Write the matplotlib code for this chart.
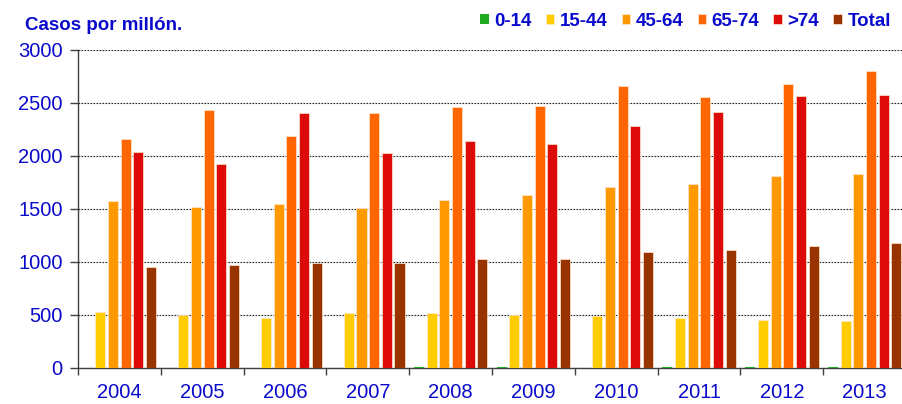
import matplotlib
matplotlib.use('Agg')
import matplotlib.pyplot as plt
import numpy as np

## ------------ data -----------
years = ['2004', '2005', '2006', '2007', '2008', '2009', '2010', '2011', '2012', '2013']
groups = ['0-14', '15-44', '45-64', '65-74', '>74', 'Total']

g_0_14 = [0, 0, 0, 0, 10, 10, 0, 10, 10, 10]
g_15_44 = [526, 495, 467, 514, 514, 495, 486, 467, 448, 439]
g_45_64 = [1569, 1519, 1540, 1503, 1581, 1632, 1703, 1735, 1804, 1826]
g_65_74 = [2162, 2435, 2181, 2407, 2460, 2470, 2654, 2551, 2673, 2796]
g_74 = [2039, 1926, 2398, 2021, 2134, 2112, 2284, 2416, 2564, 2576]
total = [947, 966, 991, 990, 1029, 1029, 1089, 1114, 1152, 1180]

series = [g_0_14, g_15_44, g_45_64, g_65_74, g_74, total]
colors = ['#20AA20', '#FFCC00', '#FF9900', '#FF6600', '#DD0A0A', '#993300']
blue = '#0A0ACC'

## ------------ plot bars -----------
plt.rcParams['font.family'] = ['Liberation Sans', 'DejaVu Sans']
fig = plt.figure(figsize=(9.02, 4.04), dpi=100)
ax = fig.add_axes([0.0865, 0.09, 0.918, 0.787])

pos = np.arange(len(years)) + 0.5
step = 0.153
width = 0.121
for k, (vals, col, lab) in enumerate(zip(series, colors, groups)):
    lw = 0 if k == 0 else 0.5   # no pale edge on the tiny green bars
    ax.bar(pos + (k - 2.5) * step, vals, width, color=col, label=lab,
           edgecolor='#FFE8D0', linewidth=lw, zorder=3)

ax.set_xlim(0, len(years))
ax.set_ylim(0, 3000)
ax.set_yticks(np.arange(0, 3001, 500))

# ticks on the category borders, labels in the middle
ax.set_xticks(np.arange(len(years) + 1))
ax.set_xticklabels([])
ax.set_xticks(pos, minor=True)
ax.set_xticklabels(years, minor=True)
ax.tick_params(axis='x', which='major', length=5, width=1, color='#404040', direction='out')
ax.tick_params(axis='x', which='minor', length=0, pad=11, labelsize=14.5, labelcolor=blue)
ax.tick_params(axis='y', length=6, width=1, color='#404040', pad=5, labelsize=14.5, labelcolor=blue)

ax.yaxis.grid(True, linestyle=(0, (1.5, 1.2)), color='#202020', linewidth=0.8, zorder=0)
ax.set_axisbelow(True)
for s in ['top', 'right']:
    ax.spines[s].set_visible(False)
for s in ['left', 'bottom']:
    ax.spines[s].set_color('#404040')
    ax.spines[s].set_linewidth(1)

fig.text(0.028, 0.938, 'Casos por millón.', color=blue, fontsize=13.5,
         fontweight='bold', va='center', ha='left')

leg = fig.legend(loc='center right', bbox_to_anchor=(1.0, 0.948), ncol=6, frameon=False,
                 handlelength=0.45, handleheight=0.45, handletextpad=0.3, columnspacing=0.75,
                 prop={'size': 13.5, 'weight': 'bold'}, borderaxespad=0.2)
for t in leg.get_texts():
    t.set_color(blue)

fig.savefig('out.png', dpi=100)
